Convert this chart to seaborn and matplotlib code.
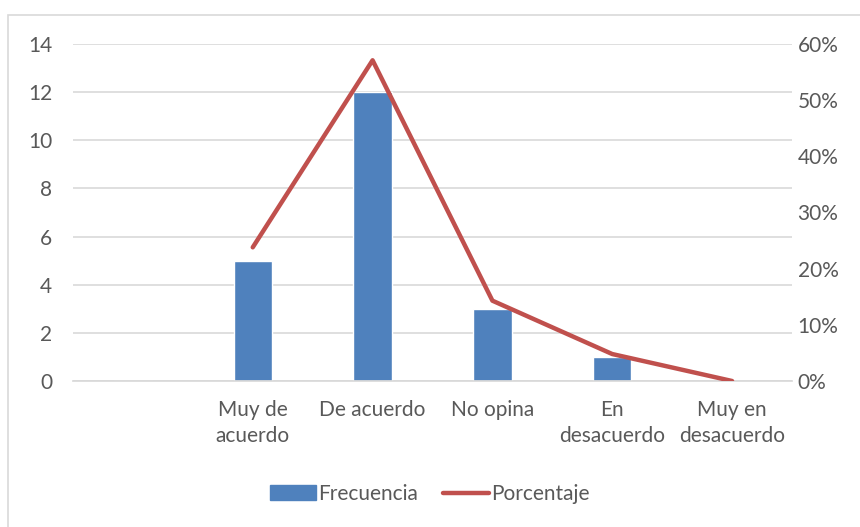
import matplotlib
matplotlib.use("Agg")
import matplotlib.pyplot as plt
import seaborn as sns
import numpy as np
import pandas as pd
from matplotlib.patches import Rectangle
from matplotlib.lines import Line2D
from matplotlib.ticker import FuncFormatter

categories = ["", "Muy de\nacuerdo", "De acuerdo", "No opina", "En\ndesacuerdo", "Muy en\ndesacuerdo"]
frecuencia = [0, 5, 12, 3, 1, 0]
porcentaje = [np.nan, 23.8, 57.1, 14.3, 4.8, 0.0]

sns.set_theme(style="white")
plt.rcParams['font.family'] = ['Lato', 'DejaVu Sans']

FS = 15
fig = plt.figure(figsize=(8.6, 5.27), dpi=100)
ax = fig.add_axes([73/860, 1-381/527, (792-73)/860, (381-44)/527])

df = pd.DataFrame({"cat": categories, "freq": frecuencia, "pct": porcentaje})
sns.barplot(data=df, x="cat", y="freq", order=categories, color="#4F81BD",
            saturation=1, width=0.32, ax=ax)
ax.set_ylim(0, 14)
ax.set_yticks(range(0, 15, 2))
ax.set_xlim(-0.5, len(categories)-0.5)
ax.yaxis.grid(True, color="#D9D9D9", linewidth=1.2)
ax.set_axisbelow(True)
for s in ax.spines.values():
    s.set_visible(False)
ax.spines['bottom'].set_visible(True)
ax.spines['bottom'].set_color("#D9D9D9")
ax.set_xlabel("")
ax.set_ylabel("")
ax.tick_params(axis='y', length=0, labelsize=FS, colors="#595959", pad=15)
ax.tick_params(axis='x', length=0, labelsize=FS, colors="#595959", pad=14)
for lbl in ax.get_xticklabels():
    lbl.set_linespacing(1.35)

ax2 = ax.twinx()
xpos = np.arange(len(categories))
sns.lineplot(x=xpos, y=df["pct"].values, color="#C0504D", linewidth=3.2, ax=ax2)
ax2.set_ylim(0, 60)
ax2.set_yticks(range(0, 61, 10))
ax2.yaxis.set_major_formatter(FuncFormatter(lambda v, p: f"{int(v)}%"))
for s in ax2.spines.values():
    s.set_visible(False)
ax2.tick_params(axis='y', length=0, labelsize=FS, colors="#595959", pad=4)
ax2.set_xlim(-0.5, len(categories)-0.5)

handles = [Rectangle((0, 0), 1, 1, color="#4F81BD"),
           Line2D([0], [0], color="#C0504D", linewidth=3.2)]
fig.legend(handles, ["Frecuencia", "Porcentaje"], loc="center",
           bbox_to_anchor=(0.5, 1-494/527), ncol=2, frameon=False,
           fontsize=FS, labelcolor="#595959", handlelength=2.2,
           handletextpad=0.1, columnspacing=1.2)

fig.patches.append(Rectangle((8/860, -0.01), 1.0, 1-15/527+0.01, transform=fig.transFigure,
                             fill=False, edgecolor="#D9D9D9", linewidth=1.2))

fig.savefig("out.png", dpi=100)
